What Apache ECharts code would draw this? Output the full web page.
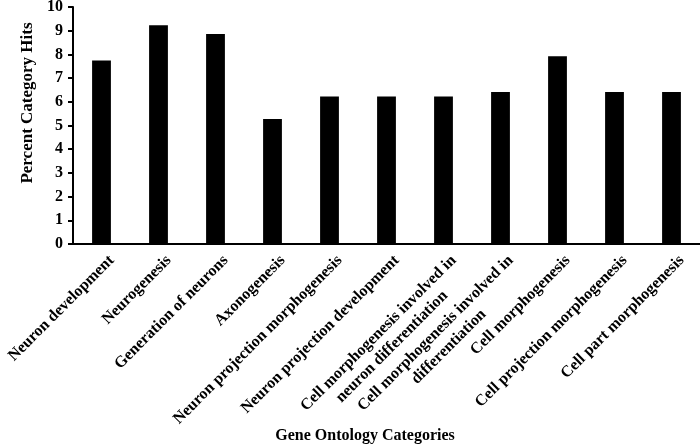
<!DOCTYPE html>
<html>
<head>
<meta charset="utf-8">
<script src="https://cdn.jsdelivr.net/npm/echarts@6/dist/echarts.min.js"></script>
<style>
  html, body { margin: 0; padding: 0; background: #fff; }
  #chart { width: 700px; height: 446px; }
</style>
</head>
<body>
<div id="chart"></div>
<script>
var categories = [
	'Neuron development',
	'Neurogenesis',
	'Generation of neurons',
	'Axonogenesis',
	'Neuron projection morphogenesis',
	'Neuron projection development',
	'Cell morphogenesis involved in\nneuron differentiation',
	'Cell morphogenesis involved in\ndifferentiation',
	'Cell morphogenesis',
	'Cell projection morphogenesis',
	'Cell part morphogenesis'
];
var hits = [7.74, 9.23, 8.86, 5.27, 6.22, 6.22, 6.22, 6.41, 7.92, 6.41, 6.41];
var yTicks = [0, 10, 1]; // min, max, step

var serif = '"Liberation Serif", "Times New Roman", serif';

var myChart = echarts.init(document.getElementById('chart'));

var option = {
	animation: false,
	backgroundColor: '#fff',
	grid: {
		left: 73,
		right: 0,
		top: 7,
		bottom: 202,
		outerBoundsMode: 'none'
	},
	// axis titles are off-centre in the original, so place them by hand
	graphic: [{
		type: 'text',
		x: 28,
		y: 103,
		rotation: Math.PI / 2,
		style: {
			text: 'Percent Category Hits',
			fontFamily: serif,
			fontWeight: 'bold',
			fontSize: 17,
			fill: '#000',
			align: 'center',
			verticalAlign: 'middle'
		}
	}, {
		type: 'text',
		x: 365,
		y: 436,
		style: {
			text: 'Gene Ontology Categories',
			fontFamily: serif,
			fontWeight: 'bold',
			fontSize: 16,
			fill: '#000',
			align: 'center',
			verticalAlign: 'middle'
		}
	}],
	xAxis: {
		type: 'category',
		data: categories,
		axisLine: { lineStyle: { color: '#000', width: 2 } },
		axisTick: { show: false },
		axisLabel: {
			interval: 0,
			rotate: 45,
			margin: 8,
			align: 'right',
			verticalAlign: 'top',
			padding: [2, -3, 0, 0],
			color: '#000',
			fontFamily: serif,
			fontWeight: 'bold',
			fontSize: 16,
			formatter: function (s) {
				return s.split('\n').map(function (line) {
					return '{c|' + line + '}';
				}).join('\n');
			},
			rich: {
				c: {
					align: 'center',
					fontFamily: serif,
					fontWeight: 'bold',
					fontSize: 16,
					lineHeight: 19,
					color: '#000'
				}
			}
		}
	},
	yAxis: {
		type: 'value',
		min: yTicks[0],
		max: yTicks[1],
		interval: yTicks[2],
		axisLine: { show: true, lineStyle: { color: '#000', width: 2 } },
		axisTick: { show: true, length: 5, lineStyle: { color: '#000', width: 2 } },
		splitLine: { show: false },
		axisLabel: {
			margin: 10,
			color: '#000',
			fontFamily: serif,
			fontWeight: 'bold',
			fontSize: 16
		}
	},
	series: [{
		type: 'bar',
		data: hits,
		barWidth: '33%',
		itemStyle: { color: '#000' }
	}]
};

myChart.setOption(option);
</script>
</body>
</html>
